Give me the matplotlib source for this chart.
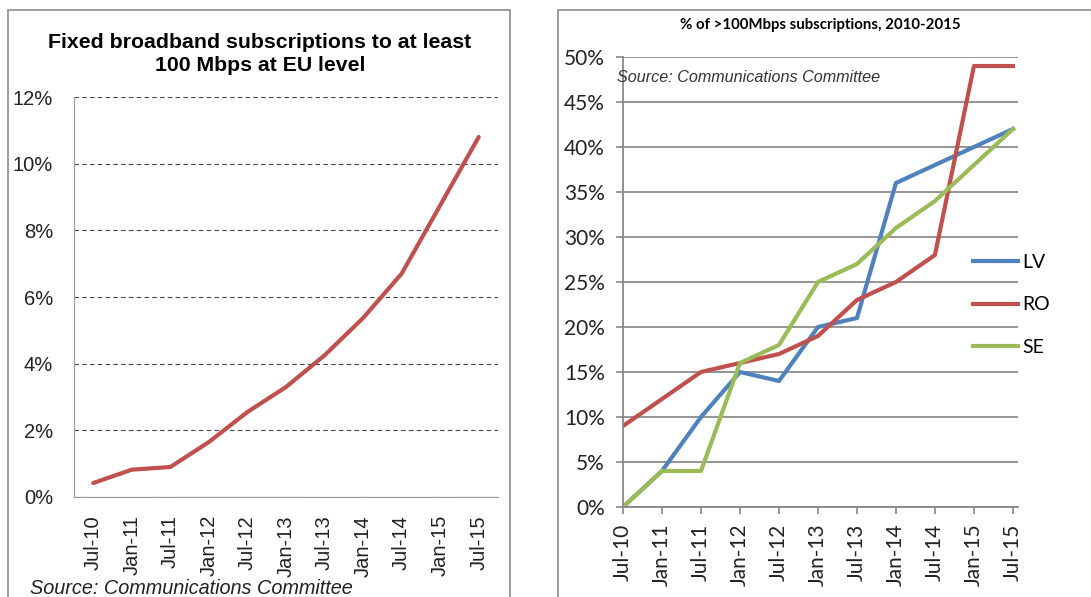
import matplotlib
matplotlib.use("Agg")
import matplotlib.pyplot as plt
from matplotlib.patches import Rectangle
from matplotlib.ticker import FuncFormatter

periods = ["Jul-10", "Jan-11", "Jul-11", "Jan-12", "Jul-12", "Jan-13",
           "Jul-13", "Jan-14", "Jul-14", "Jan-15", "Jul-15"]
eu_share = [0.42, 0.82, 0.9, 1.65, 2.55, 3.3, 4.25, 5.37, 6.7, 8.75, 10.8]

lv = [0, 4, 10, 15, 14, 20, 21, 36, 38, 40, 42]
ro = [9, 12, 15, 16, 17, 19, 23, 25, 28, 49, 49]
se = [0, 4, 4, 16, 18, 25, 27, 31, 34, 38, 42]

W, H = 1091, 597
fig = plt.figure(figsize=(W / 100, H / 100), dpi=100)
plt.rcParams['font.family'] = ['Liberation Sans', 'DejaVu Sans']

def fx(px):
    return px / W

def fy(py):
    return 1 - py / H

# outer frames of the two charts
for x0, x1 in [(8, 510), (558, 1100)]:
    fig.add_artist(Rectangle((fx(x0), fy(610)), fx(x1 - x0), (610 - 10) / H,
                             transform=fig.transFigure, fill=False,
                             edgecolor='#8c8c8c', linewidth=1.2))

pct = FuncFormatter(lambda v, p: f"{v:.0f}%")

# left chart
ax1 = fig.add_axes([fx(74), fy(497), fx(498 - 74), (497 - 97) / H])
ax1.plot(range(len(periods)), eu_share, color='#C0504D', linewidth=3,
         solid_capstyle='round')
ax1.set_xlim(-0.5, len(periods) - 0.5)
ax1.set_ylim(0, 12)
ax1.set_yticks(range(0, 13, 2))
ax1.yaxis.set_major_formatter(pct)
ax1.set_xticks(range(len(periods)))
ax1.set_xticklabels(periods, rotation=90)
ax1.tick_params(axis='both', length=0, labelsize=14.5, colors='#222222')
ax1.tick_params(axis='y', pad=15)
ax1.tick_params(axis='x', pad=13)
ax1.grid(axis='y', linestyle=(0, (4, 3)), color='#444444', linewidth=0.8)
for s in ['top', 'right']:
    ax1.spines[s].set_visible(False)
for s in ['left', 'bottom']:
    ax1.spines[s].set_color('#999999')
ax1.set_axisbelow(True)
fig.text(fx(260), fy(54), "Fixed broadband subscriptions to at least\n100 Mbps at EU level",
         ha='center', va='center', fontsize=15.3, fontweight='bold', linespacing=1.3)
fig.text(fx(30), fy(588), "Source: Communications Committee", ha='left', va='center',
         fontsize=14.3, style='italic', color='#222222')

# right chart
ax2 = fig.add_axes([fx(623), fy(507), fx(1018 - 623), (507 - 57) / H])
ax2.plot(range(len(periods)), lv, color='#4F81BD', linewidth=3, label='LV')
ax2.plot(range(len(periods)), ro, color='#C0504D', linewidth=3, label='RO')
ax2.plot(range(len(periods)), se, color='#9BBB59', linewidth=3, label='SE')
ax2.set_xlim(0, 10.13)
ax2.set_ylim(0, 50)
ax2.set_yticks(range(0, 51, 5))
ax2.yaxis.set_major_formatter(pct)
ax2.set_xticks(range(len(periods)))
ax2.set_xticklabels(periods, rotation=90)
ax2.tick_params(axis='both', length=5, width=1.2, colors='#888888',
                labelcolor='#222222', labelsize=15)
ax2.tick_params(axis='y', pad=8)
ax2.tick_params(axis='x', pad=7)
ax2.grid(axis='y', color='#8c8c8c', linewidth=1.3)
for s in ['top', 'right']:
    ax2.spines[s].set_visible(False)
for s in ['left', 'bottom']:
    ax2.spines[s].set_color('#888888')
    ax2.spines[s].set_linewidth(1.3)
ax2.set_axisbelow(True)
for lab in ax2.get_xticklabels() + ax2.get_yticklabels():
    lab.set_family(['Lato', 'DejaVu Sans'])
ax2.legend(loc='center left', bbox_to_anchor=(fx(973), fy(305)),
           bbox_transform=fig.transFigure, frameon=False, borderpad=0,
           borderaxespad=0, handlelength=2.3, handletextpad=0.25,
           labelspacing=1.3, prop={'family': 'Lato', 'size': 14})
fig.text(fx(820), fy(25), "% of >100Mbps subscriptions, 2010-2015", ha='center',
         va='center', fontsize=10.8, fontweight='bold', family=['Lato', 'DejaVu Sans'])
ax2.text(fx(617), fy(78), "Source: Communications Committee", transform=fig.transFigure,
         ha='left', va='center', fontsize=11.6, style='italic', color='#333333')

fig.savefig("out.png", dpi=100)
